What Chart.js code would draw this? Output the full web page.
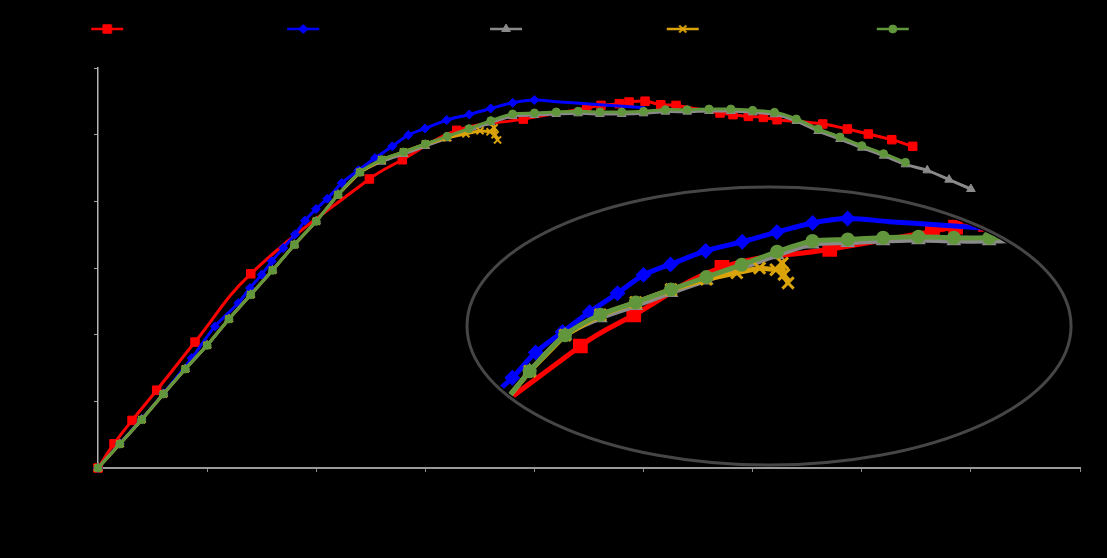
<!DOCTYPE html>
<html>
<head>
<meta charset="utf-8">
<title>Load–displacement curves</title>
<script src="https://cdn.jsdelivr.net/npm/chart.js@4.4.1/dist/chart.umd.min.js"></script>
<style>
  html, body { margin: 0; padding: 0; background: #000; }
  #wrap { position: relative; width: 1107px; height: 558px; }
</style>
</head>
<body>
<div id="wrap"><canvas id="curves"></canvas></div>
<script>
// x = displacement (mm), y = load (kN)

// Sampling grid shared by the two FE curves (gray + green)
const stepX = [0, 0.2, 0.4, 0.6, 0.8, 1.0, 1.2, 1.4, 1.6, 1.8, 2.0, 2.2, 2.4, 2.6, 2.8, 3.0, 3.2, 3.4, 3.6, 3.8,
               4.0, 4.2, 4.4, 4.6, 4.8, 5.0, 5.2, 5.4, 5.6, 5.8, 6.0, 6.2, 6.4, 6.6, 6.8, 7.0, 7.2, 7.4, 7.6, 7.8, 8.0];

const greenY = [0, 0.36, 0.725, 1.11, 1.485, 1.84, 2.235, 2.60, 2.965, 3.35, 3.70, 4.10, 4.435, 4.625, 4.74, 4.86,
                4.975, 5.09, 5.21, 5.31, 5.325, 5.34, 5.35, 5.34, 5.34, 5.35, 5.375, 5.375, 5.385, 5.385, 5.365,
                5.335, 5.235, 5.085, 4.965, 4.835, 4.715, 4.585];

const grayY = [0, 0.36, 0.725, 1.11, 1.485, 1.84, 2.235, 2.60, 2.965, 3.35, 3.70, 4.10, 4.435, 4.595, 4.71, 4.83,
               4.945, 5.06, 5.18, 5.28, 5.295, 5.31, 5.32, 5.31, 5.31, 5.32, 5.345, 5.345, 5.355, 5.355, 5.335,
               5.305, 5.205, 5.055, 4.935, 4.805, 4.685, 4.555, 4.465, 4.325, 4.185];

const redX = [0, 0.147, 0.312, 0.538, 0.889, 1.400, 2.487, 2.789, 3.288, 3.898, 4.479, 4.610, 4.778, 4.867, 5.014,
              5.158, 5.298, 5.701, 5.820, 5.961, 6.098, 6.224, 6.642, 6.868, 7.060, 7.275, 7.467];
const redY = [0, 0.364, 0.714, 1.167, 1.889, 2.913, 4.335, 4.623, 5.065, 5.233, 5.400, 5.440, 5.465, 5.490, 5.502,
              5.449, 5.439, 5.325, 5.300, 5.274, 5.259, 5.224, 5.160, 5.085, 5.010, 4.925, 4.825];

const blueX = [0, 0.2, 0.4, 0.6, 0.859, 1.072, 1.286, 1.393, 1.500, 1.592, 1.698, 1.806, 1.897, 1.998, 2.102, 2.234,
               2.386, 2.539, 2.697, 2.844, 2.997, 3.196, 3.403, 3.599, 3.801, 3.999, 4.235, 4.601, 5.014];
const blueY = [0, 0.365, 0.735, 1.12, 1.649, 2.124, 2.475, 2.700, 2.900, 3.100, 3.300, 3.505, 3.710, 3.885, 4.040,
               4.275, 4.465, 4.650, 4.825, 4.995, 5.093, 5.219, 5.303, 5.393, 5.478, 5.519, 5.490, 5.450, 5.404];
const blueLastMarkerX = 4.0; // the blue test was logged without markers after its peak

const goldX = [0, 0.2, 0.4, 0.6, 0.8, 1.0, 1.2, 1.4, 1.6, 1.8, 2.0, 2.2, 2.4, 2.6, 2.8, 3.0, 3.2,
               3.372, 3.501, 3.593, 3.630, 3.639, 3.662];
const goldY = [0, 0.36, 0.725, 1.11, 1.485, 1.84, 2.235, 2.60, 2.965, 3.35, 3.70, 4.10, 4.435, 4.625, 4.74, 4.86, 4.955,
               5.014, 5.059, 5.044, 5.104, 4.999, 4.921];

const seriesNames = [
    'Experimental – specimen A',
    'Experimental – specimen B2',
    'FE model, coarse mesh',
    'FE model, medium mesh (fail)',
    'Refined mesh'
];

const toPoints = (xs, ys) => ys.map((y, i) => ({ x: xs[i], y: y }));

const colors = {
    red: '#ff0000',
    blue: '#0000ff',
    gray: '#8a8a8a',
    gold: '#daa30a',
    green: '#62963c'
};

// marker style per series: [pointStyle, main radius, inset radius, marker border]
const markers = [
    ['rect', 6, 9, 1],
    ['rectRot', 4.5, 6.5, 1],
    ['triangle', 5, 6.5, 1],
    ['crossRot', 5, 8, 2],
    ['circle', 4, 6, 1]
];

const seriesData = [
    toPoints(redX, redY),
    toPoints(blueX, blueY),
    toPoints(stepX, grayY),
    toPoints(goldX, goldY),
    toPoints(stepX, greenY)
];
const seriesColors = [colors.red, colors.blue, colors.gray, colors.gold, colors.green];
const seriesTension = [0.4, 0.3, 0.3, 0, 0.3];

// Small "line + marker" pictures for the legend, like the spreadsheet legend keys
function legendIcon(color, style, radius, markerBorder) {
    const c = document.createElement('canvas');
    c.width = 34;
    c.height = 14;
    const g = c.getContext('2d');
    g.strokeStyle = color;
    g.fillStyle = color;
    g.lineWidth = 2.5;
    g.beginPath();
    g.moveTo(1, 7);
    g.lineTo(33, 7);
    g.stroke();
    g.lineWidth = markerBorder;
    Chart.helpers.drawPoint(g, { pointStyle: style, radius: radius, borderWidth: markerBorder, rotation: 0 }, 17, 7);
    return c;
}
const legendIcons = seriesColors.map((c, i) => legendIcon(c, markers[i][0], markers[i][1], markers[i][3]));

// Push the plot area down below the legend row
const legendSpacer = {
    id: 'legendSpacer',
    beforeInit(chart) {
        const originalFit = chart.legend.fit;
        chart.legend.fit = function fit() {
            originalFit.bind(chart.legend)();
            this.height += 23;
        };
    }
};

// Magnifying "lens": ellipse outline, and the zoomed datasets clipped to it
function lensPath(chart, o, shrink) {
    const xs = chart.scales.x;
    const ys = chart.scales.y;
    const cx = xs.getPixelForValue(o.cx);
    const cy = ys.getPixelForValue(o.cy);
    const rx = xs.getPixelForValue(o.cx + o.rx) - cx;
    const ry = cy - ys.getPixelForValue(o.cy + o.ry);
    chart.ctx.beginPath();
    chart.ctx.ellipse(cx, cy, rx - shrink, ry - shrink, 0, 0, Math.PI * 2);
}

const insetLens = {
    id: 'insetLens',
    beforeDatasetDraw(chart, args, opts) {
        if (args.meta.xAxisID !== 'xInset') return;
        chart.ctx.save();
        lensPath(chart, opts, opts.width);
        chart.ctx.clip();
    },
    afterDatasetDraw(chart, args) {
        if (args.meta.xAxisID === 'xInset') chart.ctx.restore();
    },
    afterDatasetsDraw(chart, args, opts) {
        const ctx = chart.ctx;
        ctx.save();
        lensPath(chart, opts, 0);
        ctx.lineWidth = opts.width;
        ctx.strokeStyle = opts.color;
        ctx.stroke();
        ctx.restore();
    }
};

Chart.defaults.font.family = "'Liberation Sans', Arial, sans-serif";
Chart.defaults.font.size = 12;

const datasets = [];

// main curves (index 0..4 = legend order; green drawn on top)
seriesData.forEach((pts, i) => {
    const [style, r, , mb] = markers[i];
    datasets.push({
        label: seriesNames[i],
        data: pts,
        xAxisID: 'x',
        yAxisID: 'y',
        borderColor: seriesColors[i],
        backgroundColor: seriesColors[i],
        borderWidth: 3,
        pointStyle: style,
        pointRadius: i === 1 ? (ctx) => (ctx.raw && ctx.raw.x > blueLastMarkerX ? 0 : r) : r,
        pointBorderWidth: mb,
        tension: seriesTension[i],
        clip: false,
        order: 5 - i
    });
});

// zoomed copies of the same curves inside the lens
seriesData.forEach((pts, i) => {
    const [style, , ri, mb] = markers[i];
    datasets.push({
        label: seriesNames[i] + ' (zoom)',
        data: pts,
        xAxisID: 'xInset',
        yAxisID: 'yInset',
        borderColor: seriesColors[i],
        backgroundColor: seriesColors[i],
        borderWidth: 5,
        pointStyle: style,
        pointRadius: i === 1 ? (ctx) => (ctx.raw && ctx.raw.x > blueLastMarkerX ? 0 : ri) : ri,
        pointBorderWidth: mb + 1,
        tension: seriesTension[i],
        order: 5 - i
    });
});

new Chart(document.getElementById('curves'), {
    type: 'line',
    data: { datasets: datasets },
    plugins: [legendSpacer, insetLens],
    options: {
        responsive: true,
        maintainAspectRatio: false,
        animation: false,
        events: [],
        layout: { padding: { top: 13, right: 27, left: 0, bottom: 0 } },
        plugins: {
            tooltip: { enabled: false },
            legend: {
                position: 'top',
                labels: {
                    color: '#000',
                    font: { size: 12 },
                    usePointStyle: true,
                    pointStyleWidth: 34,
                    padding: 10,
                    filter: (item) => item.datasetIndex < 5,
                    sort: (a, b) => a.datasetIndex - b.datasetIndex,
                    generateLabels(chart) {
                        const items = Chart.defaults.plugins.legend.labels.generateLabels(chart);
                        items.forEach(item => {
                            if (legendIcons[item.datasetIndex]) item.pointStyle = legendIcons[item.datasetIndex];
                        });
                        return items;
                    }
                }
            },
            insetLens: { cx: 6.15, cy: 2.13, rx: 2.768, ry: 2.085, color: '#464646', width: 3 }
        },
        scales: {
            x: {
                type: 'linear',
                min: 0,
                max: 9,
                ticks: { stepSize: 1, color: '#000' },
                grid: { drawOnChartArea: false, color: '#8c8c8c', tickLength: 4 },
                border: { color: '#9a9a9a', width: 2 },
                title: { display: true, text: 'Displacement (mm)', color: '#000' },
                afterFit: (scale) => { scale.height = 90; }
            },
            y: {
                type: 'linear',
                min: 0,
                max: 6,
                ticks: { stepSize: 1, color: '#000' },
                grid: { drawOnChartArea: false, color: '#a0a0a0', tickLength: 4 },
                border: { color: '#b4b4b4', width: 1.5 },
                title: { display: true, text: 'Load (kN)', color: '#000' },
                afterFit: (scale) => { scale.width = 98; }
            },
            // hidden axes of the magnified view (about 1.6x around the peak)
            xInset: { type: 'linear', display: false, min: -0.2425, max: 5.314 },
            yInset: { type: 'linear', display: false, min: 3.202, max: 6.917 }
        }
    }
});
</script>
</body>
</html>
